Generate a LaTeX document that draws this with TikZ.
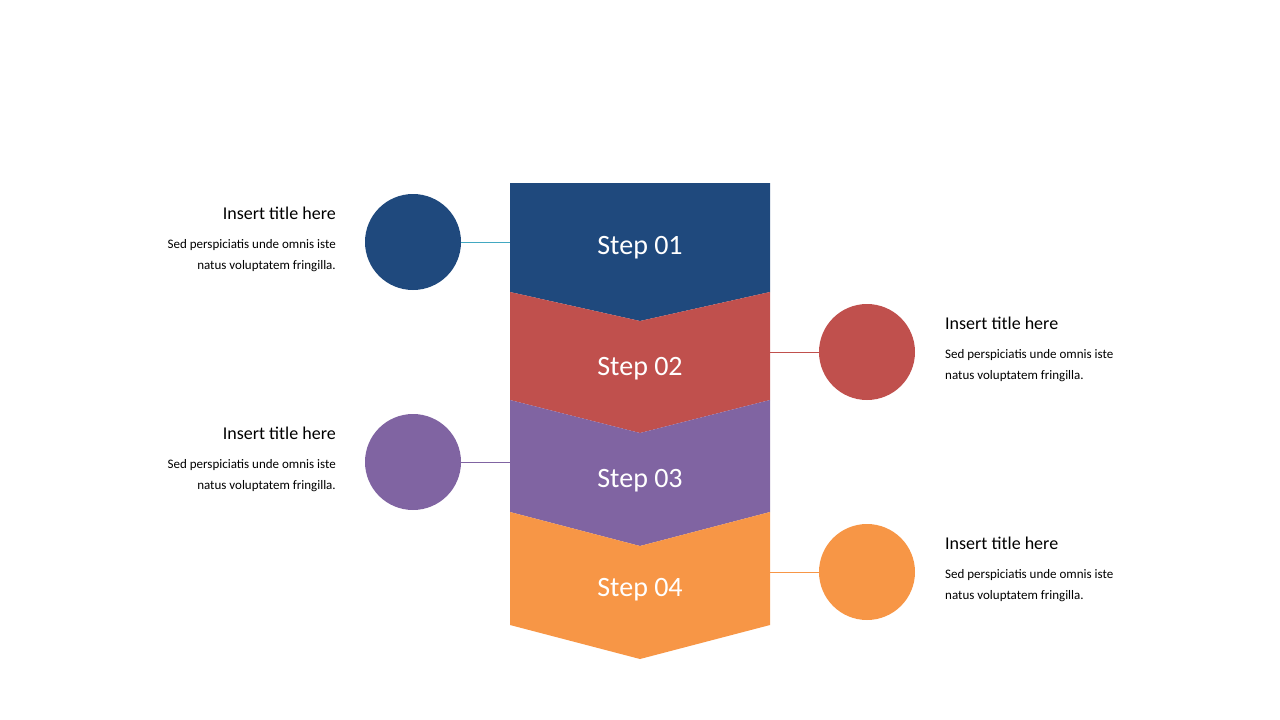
\documentclass[tikz,border=0pt]{standalone}
\usepackage{fontspec}
\setmainfont{Carlito}
\definecolor{cblue}{HTML}{1F497D}
\definecolor{cred}{HTML}{C0504D}
\definecolor{cpurple}{HTML}{8064A2}
\definecolor{corange}{HTML}{F79646}
\begin{document}
\begin{tikzpicture}[x=1pt,y=-1pt,
  circ/.style={circle,minimum size=96pt,inner sep=0pt},
  steplbl/.style={text=white,font=\fontsize{28}{32}\selectfont},
  ttl/.style={font=\fontsize{18}{22}\selectfont,inner sep=0pt},
  body/.style={font=\fontsize{13}{21}\selectfont,inner sep=0pt,align=#1}]
\useasboundingbox (0,0) rectangle (1280,720);
% steps
\fill[cblue] (510,183) -- (770,183) -- (770,292) -- (640,321) -- (510,292) -- cycle;
\fill[cred] (510,292) -- (640,321) -- (770,292) -- (770,400) -- (640,433) -- (510,400) -- cycle;
\fill[cpurple] (510,400) -- (640,433) -- (770,400) -- (770,512) -- (640,546) -- (510,512) -- cycle;
\fill[corange] (510,512) -- (640,546) -- (770,512) -- (770,625) -- (640,659) -- (510,625) -- cycle;
\node[steplbl] (s1) at (640,248) {Step 01};
\node[steplbl] (s2) at (640,369) {Step 02};
\node[steplbl] (s3) at (640,481) {Step 03};
\node[steplbl] (s4) at (640,590) {Step 04};
% circles
\node[circ,fill=cblue] (c1) at (413,242) {};
\node[circ,fill=cred] (c2) at (867,352) {};
\node[circ,fill=cpurple] (c3) at (413,462) {};
\node[circ,fill=corange] (c4) at (867,572) {};
\coordinate (e1) at (510,242);
\coordinate (e2) at (770,352);
\coordinate (e3) at (510,462);
\coordinate (e4) at (770,572);
\draw[cblue!60!cyan!80!white] (c1.east) -- (e1);
\draw[cred] (c2.west) -- (e2);
\draw[cpurple] (c3.east) -- (e3);
\draw[corange] (c4.west) -- (e4);
% texts
\node[ttl,anchor=east] (t1) at (336,213) {Insert title here};
\node[body=right,anchor=north east] (b1) at (336,239) {Sed perspiciatis unde omnis iste\\natus voluptatem fringilla.};
\node[ttl,anchor=west] (t2) at (945,323) {Insert title here};
\node[body=left,anchor=north west] (b2) at (945,349) {Sed perspiciatis unde omnis iste\\natus voluptatem fringilla.};
\node[ttl,anchor=east] (t3) at (336,433) {Insert title here};
\node[body=right,anchor=north east] (b3) at (336,459) {Sed perspiciatis unde omnis iste\\natus voluptatem fringilla.};
\node[ttl,anchor=west] (t4) at (945,543) {Insert title here};
\node[body=left,anchor=north west] (b4) at (945,569) {Sed perspiciatis unde omnis iste\\natus voluptatem fringilla.};
\end{tikzpicture}
\end{document}
